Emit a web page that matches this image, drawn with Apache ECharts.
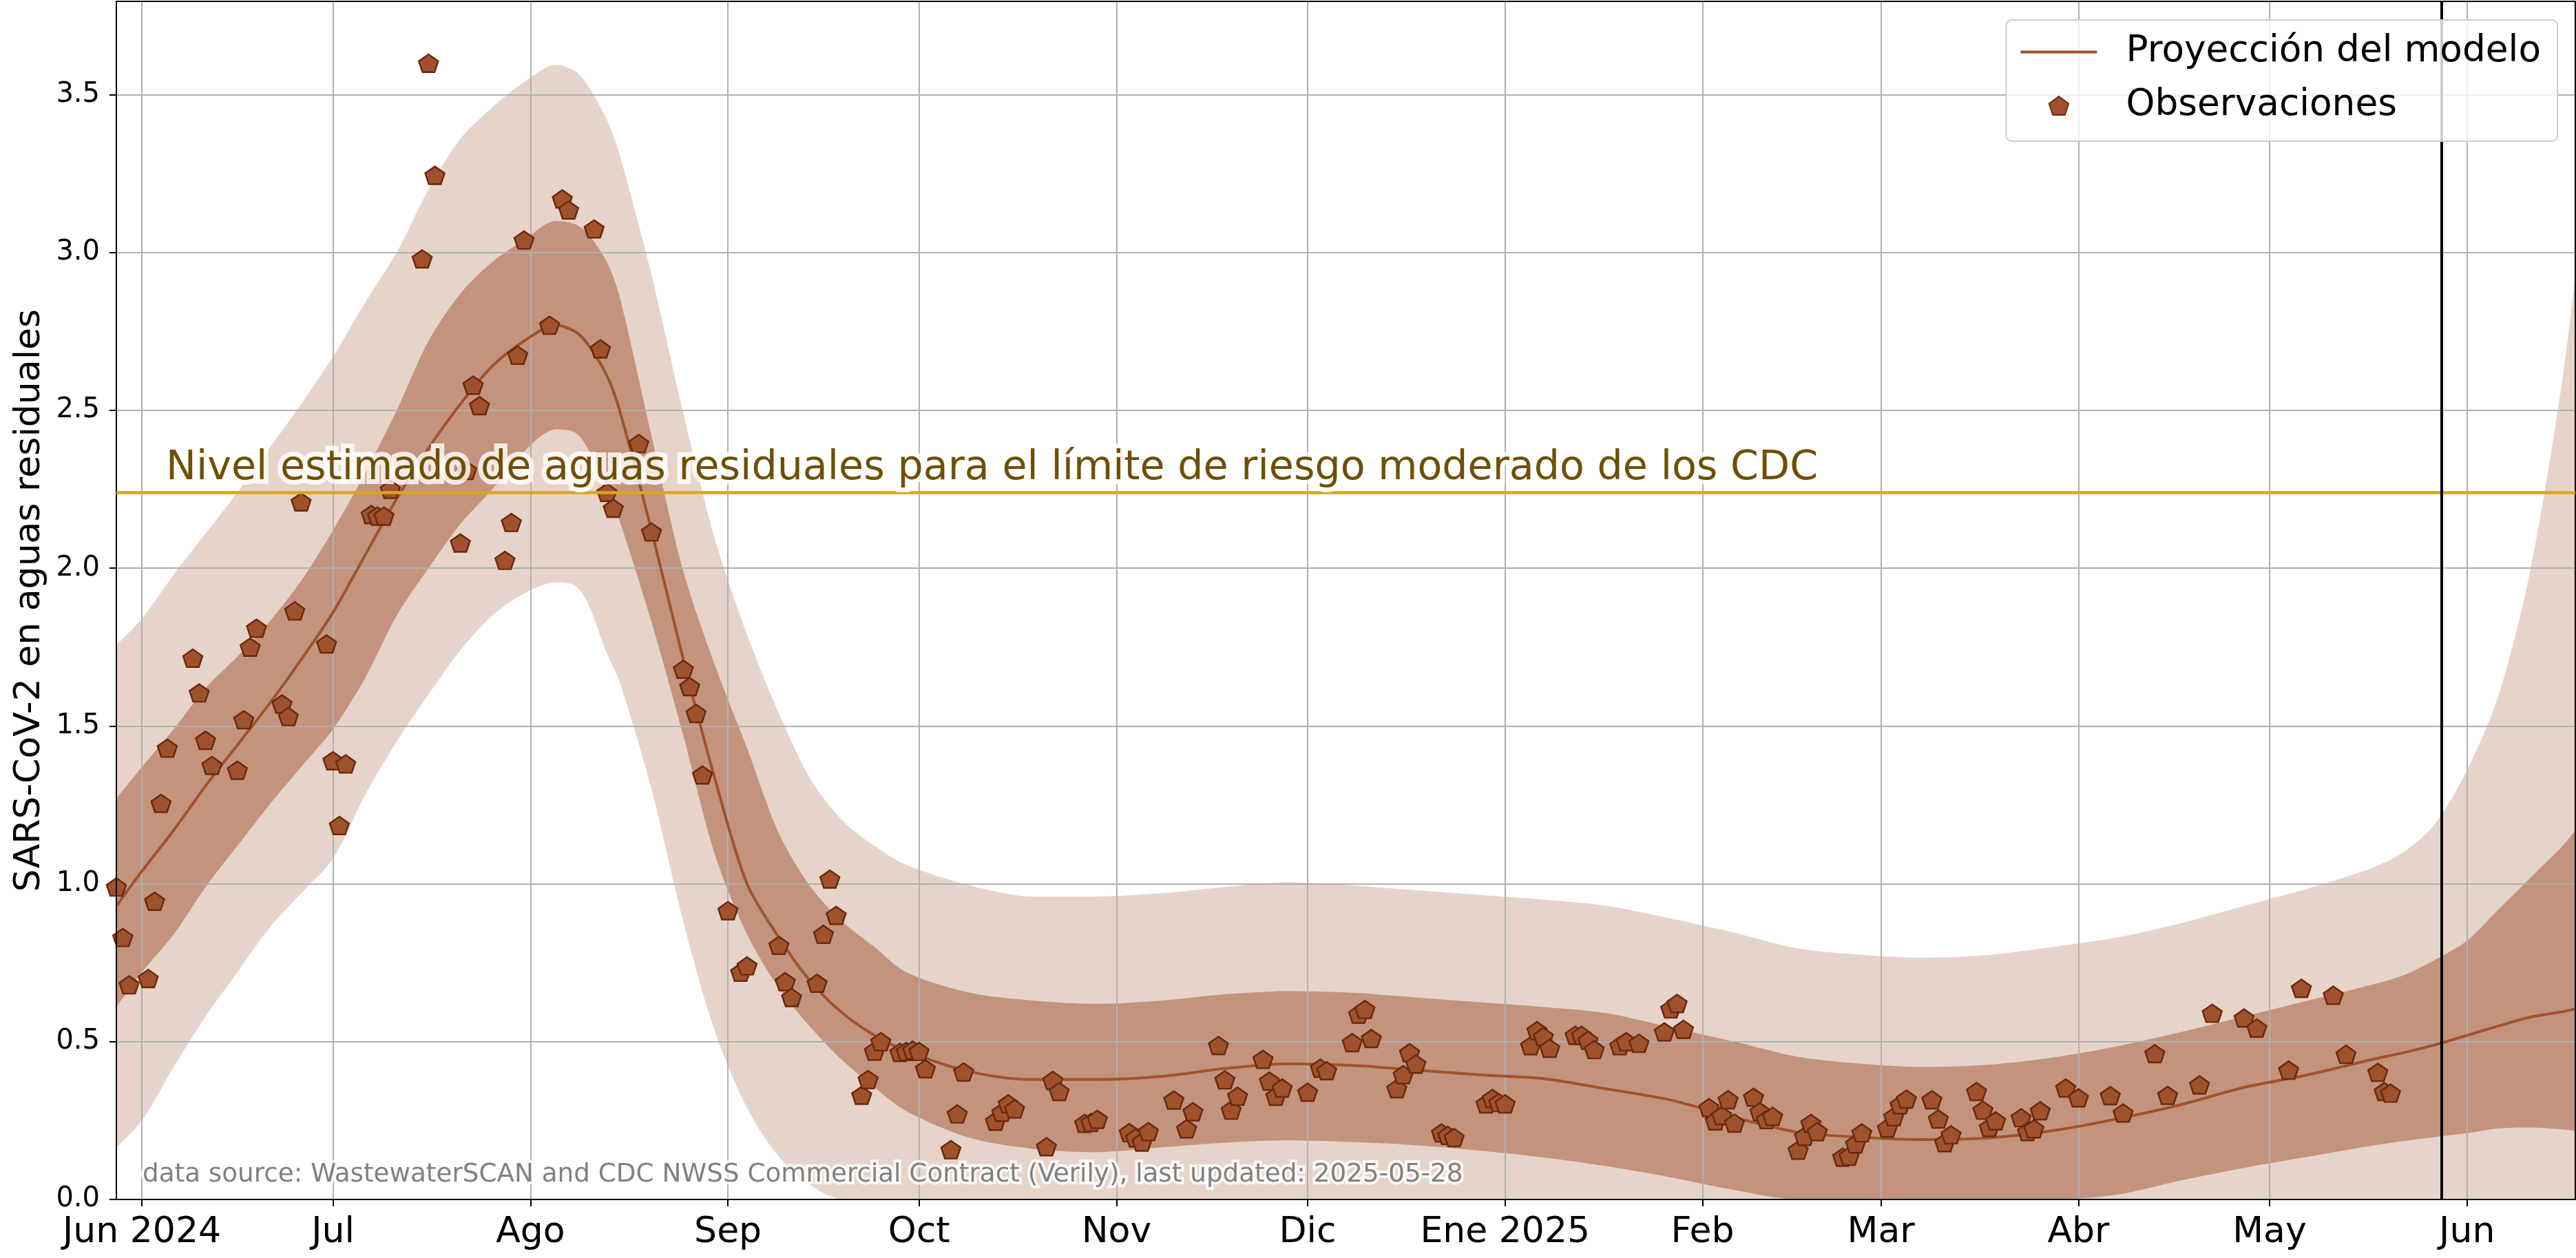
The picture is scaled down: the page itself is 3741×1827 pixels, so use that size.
<!DOCTYPE html>
<html>
<head>
<meta charset="utf-8">
<title>SARS-CoV-2 en aguas residuales</title>
<script src="https://cdn.jsdelivr.net/npm/echarts@6/dist/echarts.min.js"></script>
<style>
  html, body { margin: 0; padding: 0; background: #fff; }
  #chart { width: 3741px; height: 1827px; }
</style>
</head>
<body>
<div id="chart"></div>
<script>
// ---- observaciones (fecha de muestra, nivel) ----
var obsDates = [
  '2024-05-28','2024-05-29','2024-05-30','2024-06-02','2024-06-03','2024-06-04','2024-06-05',
  '2024-06-09','2024-06-10','2024-06-11','2024-06-12','2024-06-16','2024-06-17','2024-06-18','2024-06-19',
  '2024-06-23','2024-06-24','2024-06-25','2024-06-26','2024-06-30','2024-07-01','2024-07-02','2024-07-03',
  '2024-07-07','2024-07-08','2024-07-09','2024-07-10','2024-07-15','2024-07-16','2024-07-17',
  '2024-07-21','2024-07-22','2024-07-23','2024-07-24','2024-07-28','2024-07-29','2024-07-30','2024-07-31',
  '2024-08-04','2024-08-06','2024-08-07','2024-08-11','2024-08-12','2024-08-13','2024-08-14',
  '2024-08-18','2024-08-20','2024-08-25','2024-08-26','2024-08-27','2024-08-28',
  '2024-09-01','2024-09-03','2024-09-04','2024-09-09','2024-09-10','2024-09-11',
  '2024-09-15','2024-09-16','2024-09-17','2024-09-18','2024-09-22','2024-09-23','2024-09-24','2024-09-25',
  '2024-09-28','2024-09-29','2024-09-30','2024-10-01','2024-10-02','2024-10-06','2024-10-07','2024-10-08',
  '2024-10-13','2024-10-14','2024-10-15','2024-10-16','2024-10-21','2024-10-22','2024-10-23',
  '2024-10-27','2024-10-28','2024-10-29','2024-11-03','2024-11-04','2024-11-05','2024-11-06',
  '2024-11-10','2024-11-12','2024-11-13','2024-11-17','2024-11-18','2024-11-19','2024-11-20',
  '2024-11-24','2024-11-25','2024-11-26','2024-11-27','2024-12-01','2024-12-03','2024-12-04',
  '2024-12-08','2024-12-09','2024-12-10','2024-12-11','2024-12-15','2024-12-16','2024-12-17','2024-12-18',
  '2024-12-22','2024-12-23','2024-12-24','2024-12-29','2024-12-30','2024-12-31','2025-01-01',
  '2025-01-05','2025-01-06','2025-01-07','2025-01-08','2025-01-12','2025-01-13','2025-01-14','2025-01-15',
  '2025-01-19','2025-01-20','2025-01-22','2025-01-26','2025-01-27','2025-01-28','2025-01-29',
  '2025-02-02','2025-02-03','2025-02-04','2025-02-05','2025-02-06','2025-02-09','2025-02-10','2025-02-11','2025-02-12',
  '2025-02-16','2025-02-17','2025-02-18','2025-02-19','2025-02-23','2025-02-24','2025-02-25','2025-02-26',
  '2025-03-02','2025-03-03','2025-03-04','2025-03-05','2025-03-09','2025-03-10','2025-03-11','2025-03-12',
  '2025-03-16','2025-03-17','2025-03-18','2025-03-19','2025-03-23','2025-03-24','2025-03-25','2025-03-26',
  '2025-03-30','2025-04-01','2025-04-06','2025-04-08','2025-04-13','2025-04-15','2025-04-20','2025-04-22',
  '2025-04-27','2025-04-29','2025-05-04','2025-05-06','2025-05-11','2025-05-13','2025-05-18','2025-05-19','2025-05-20'
];
var obsValues = [
  0.99, 0.83, 0.68, 0.70, 0.945, 1.255, 1.43,
  1.715, 1.605, 1.455, 1.375, 1.36, 1.52, 1.75, 1.81,
  1.57, 1.53, 1.865, 2.21, 1.76, 1.39, 1.185, 1.38,
  2.17, 2.165, 2.165, 2.25, 2.98, 3.60, 3.245,
  2.08, 2.31, 2.58, 2.515, 2.025, 2.145, 2.675, 3.04,
  2.77, 3.17, 3.135, 3.075, 2.695, 2.24, 2.19,
  2.395, 2.115, 1.68, 1.625, 1.54, 1.345,
  0.915, 0.72, 0.74, 0.805, 0.69, 0.64,
  0.685, 0.84, 1.015, 0.90, 0.33, 0.38, 0.47, 0.50,
  0.466, 0.469, 0.473, 0.469, 0.414, 0.158, 0.271, 0.404,
  0.248, 0.276, 0.303, 0.287, 0.167, 0.377, 0.342,
  0.241, 0.244, 0.254, 0.212, 0.195, 0.182, 0.215,
  0.315, 0.224, 0.278, 0.488, 0.379, 0.283, 0.327,
  0.444, 0.375, 0.327, 0.353, 0.34, 0.416, 0.408,
  0.497, 0.587, 0.602, 0.51, 0.351, 0.395, 0.465, 0.429,
  0.211, 0.203, 0.196, 0.303, 0.32, 0.307, 0.303,
  0.487, 0.535, 0.516, 0.479, 0.52, 0.52, 0.504, 0.475,
  0.487, 0.50, 0.495, 0.531, 0.604, 0.621, 0.539,
  0.291, 0.249, 0.266, 0.316, 0.242, 0.324, 0.278, 0.253, 0.263,
  0.156, 0.20, 0.241, 0.215, 0.134, 0.137, 0.176, 0.211,
  0.226, 0.262, 0.30, 0.318, 0.316, 0.255, 0.18, 0.205,
  0.342, 0.283, 0.228, 0.249, 0.259, 0.215, 0.224, 0.281,
  0.353, 0.322, 0.329, 0.274, 0.462, 0.33, 0.363, 0.59,
  0.575, 0.543, 0.41, 0.669, 0.647, 0.46, 0.403, 0.342, 0.337
];

// ---- proyección del modelo: mediana e intervalos ----
var modelDates = [
  '2024-05-28','2024-06-01','2024-06-06','2024-06-11','2024-06-16','2024-06-21','2024-06-26',
  '2024-07-01','2024-07-06','2024-07-11','2024-07-16','2024-07-21','2024-07-26','2024-07-31',
  '2024-08-05','2024-08-08','2024-08-10','2024-08-13','2024-08-15','2024-08-20','2024-08-25','2024-08-30',
  '2024-09-04','2024-09-09','2024-09-14','2024-09-19','2024-09-24','2024-09-29',
  '2024-10-09','2024-10-19','2024-10-29','2024-11-08','2024-11-18','2024-11-28',
  '2024-12-08','2024-12-18','2024-12-28','2025-01-07','2025-01-17','2025-01-27',
  '2025-02-06','2025-02-16','2025-02-26','2025-03-08','2025-03-18','2025-03-28',
  '2025-04-07','2025-04-17','2025-04-27','2025-05-07','2025-05-17','2025-05-22','2025-05-27',
  '2025-06-01','2025-06-06','2025-06-11','2025-06-16','2025-06-18'
];
var modelMedian = [
  0.93, 1.04, 1.17, 1.31, 1.44, 1.57, 1.71,
  1.86, 2.04, 2.22, 2.38, 2.52, 2.64, 2.72,
  2.77, 2.75, 2.71, 2.61, 2.50, 2.12, 1.71, 1.33,
  1.00, 0.83, 0.69, 0.59, 0.52, 0.47,
  0.405, 0.38, 0.38, 0.39, 0.415, 0.43,
  0.425, 0.41, 0.395, 0.383, 0.35, 0.315,
  0.26, 0.213, 0.197, 0.19, 0.195, 0.218,
  0.255, 0.30, 0.355, 0.395, 0.443, 0.465, 0.49,
  0.52, 0.55, 0.578, 0.595, 0.604
];
var ci50High = [
  1.27, 1.37, 1.49, 1.62, 1.72, 1.83, 1.96,
  2.12, 2.30, 2.50, 2.72, 2.87, 2.97, 3.04,
  3.10, 3.09, 3.06, 2.97, 2.86, 2.42, 1.99, 1.69,
  1.43, 1.16, 0.99, 0.88, 0.80, 0.72,
  0.655, 0.63, 0.62, 0.63, 0.65, 0.66,
  0.655, 0.64, 0.625, 0.61, 0.59, 0.545,
  0.50, 0.452, 0.43, 0.42, 0.427, 0.45,
  0.485, 0.53, 0.58, 0.63, 0.68, 0.71, 0.76,
  0.82, 0.92, 1.02, 1.12, 1.17
];
var ci50Low = [
  0.61, 0.72, 0.84, 0.99, 1.12, 1.25, 1.37,
  1.49, 1.65, 1.85, 2.0, 2.14, 2.25, 2.37,
  2.44, 2.43, 2.38, 2.25, 2.15, 1.83, 1.47, 1.09,
  0.84, 0.67, 0.545, 0.44, 0.355, 0.28,
  0.195, 0.16, 0.15, 0.165, 0.18, 0.187,
  0.182, 0.172, 0.155, 0.133, 0.105, 0.07,
  0.03, 0, 0, 0, 0, 0,
  0.015, 0.06, 0.10, 0.135, 0.17, 0.185, 0.198,
  0.21, 0.225, 0.228, 0.222, 0.217
];
var ci95High = [
  1.757, 1.84, 1.98, 2.11, 2.24, 2.38, 2.52,
  2.67, 2.84, 3.0, 3.2, 3.36, 3.46, 3.54,
  3.595, 3.575, 3.53, 3.42, 3.31, 2.93, 2.49, 2.09,
  1.79, 1.54, 1.33, 1.20, 1.12, 1.06,
  0.995, 0.96, 0.96, 0.97, 0.99, 1.005,
  0.995, 0.98, 0.965, 0.95, 0.93, 0.89,
  0.845, 0.795, 0.775, 0.766, 0.775, 0.80,
  0.83, 0.875, 0.93, 0.985, 1.05, 1.10, 1.19,
  1.36, 1.60, 2.0, 2.6, 2.93
];
var ci95Low = [
  0.165, 0.25, 0.42, 0.58, 0.72, 0.86, 0.97,
  1.08, 1.28, 1.45, 1.60, 1.74, 1.85, 1.92,
  1.955, 1.945, 1.89, 1.73, 1.64, 1.30, 0.88, 0.53,
  0.29, 0.135, 0.045, 0, 0, 0,
  0, 0, 0, 0, 0, 0,
  0, 0, 0, 0, 0, 0,
  0, 0, 0, 0, 0, 0,
  0, 0, 0, 0, 0, 0, 0,
  0, 0, 0, 0, 0
];

// ---- ejes ----
var monthTicks = ['2024-06-01','2024-07-01','2024-08-01','2024-09-01','2024-10-01','2024-11-01',
  '2024-12-01','2025-01-01','2025-02-01','2025-03-01','2025-04-01','2025-05-01','2025-06-01'];
var monthLabels = ['Jun 2024','Jul','Ago','Sep','Oct','Nov','Dic','Ene 2025','Feb','Mar','Abr','May','Jun'];
var yTicks = [0, 0.5, 1.0, 1.5, 2.0, 2.5, 3.0, 3.5];
var riskThreshold = 2.24;
var lastUpdated = '2025-05-28';
var xStart = '2024-05-28', xEnd = '2025-06-18';

var FONT = 'DejaVu Sans';
var SIENNA = '#A0522D';
var BAND_LIGHT = '#E6D4CA';
var BAND_DARK = '#C3937D';

function parseDay(s) {
  var p = s.split('-');
  return new Date(+p[0], +p[1] - 1, +p[2]).getTime();
}
function pairs(xs, ys) {
  return xs.map(function (x, i) { return [parseDay(x), ys[i]]; });
}

var tickTimes = monthTicks.map(parseDay);
var tickLabelByTime = {};
tickTimes.forEach(function (t, i) { tickLabelByTime[t] = monthLabels[i]; });

// bands: each edge filled down to 0, drawn from the outermost inwards
function band(name, values, fill) {
  return {
    name: name, type: 'line', symbol: 'none', smooth: 0.3, silent: true, z: 1,
    data: pairs(modelDates, values),
    lineStyle: { width: 0, opacity: 0 },
    areaStyle: { color: fill, opacity: 1 }
  };
}

var option = {
  animation: false,
  backgroundColor: '#ffffff',
  grid: {
    left: 169, right: 1, top: 2, bottom: 85,
    show: true, borderColor: '#000', borderWidth: 2, backgroundColor: 'transparent', z: 5
  },
  legend: {
    data: [
      { name: 'Proyección del modelo',
        itemStyle: { color: 'rgba(0,0,0,0)', borderColor: 'rgba(0,0,0,0)', borderWidth: 0 },
        lineStyle: { color: SIENNA, width: 4 } },
      { name: 'Observaciones' }
    ],
    orient: 'vertical',
    right: 27, top: 29,
    padding: [20, 24, 25, 19],
    itemWidth: 111, itemHeight: 27, itemGap: 25,
    backgroundColor: 'rgba(255,255,255,0.8)',
    borderColor: '#cccccc', borderWidth: 2, borderRadius: 8,
    textStyle: { fontFamily: FONT, fontSize: 53.3, lineHeight: 52, color: '#000', padding: [0, 0, 0, 37] },
    z: 6
  },
  xAxis: {
    type: 'value',
    min: parseDay(xStart), max: parseDay(xEnd),
    z: 2,
    axisLine: { show: true, onZero: false, lineStyle: { color: '#000', width: 2 } },
    axisTick: { show: true, length: 10, lineStyle: { color: '#000', width: 2 }, customValues: tickTimes },
    axisLabel: {
      customValues: tickTimes,
      fontFamily: FONT, fontSize: 52, color: '#000', margin: 22,
      formatter: function (v) { return tickLabelByTime[v] || ''; }
    },
    splitLine: { show: true, lineStyle: { color: '#b0b0b0', width: 2 } }
  },
  yAxis: {
    type: 'value',
    min: 0, max: 3.796,
    z: 2,
    name: 'SARS-CoV-2 en aguas residuales',
    nameLocation: 'middle', nameGap: 100,
    nameTextStyle: { fontFamily: FONT, fontSize: 52, color: '#000' },
    axisLine: { show: true, lineStyle: { color: '#000', width: 2 } },
    axisTick: { show: true, length: 10, lineStyle: { color: '#000', width: 2 }, customValues: yTicks },
    axisLabel: {
      customValues: yTicks,
      fontFamily: FONT, fontSize: 40, color: '#000', margin: 24,
      formatter: function (v) { return v.toFixed(1); }
    },
    splitLine: { show: true, lineStyle: { color: '#b0b0b0', width: 2 } }
  },
  series: [
    band('ic95_sup', ci95High, BAND_LIGHT),
    band('ic50_sup', ci50High, BAND_DARK),
    band('ic50_inf', ci50Low, BAND_LIGHT),
    band('ic95_inf', ci95Low, '#ffffff'),
    {
      name: 'Proyección del modelo',
      type: 'line', symbol: 'none', smooth: 0.3, z: 3,
      data: pairs(modelDates, modelMedian),
      itemStyle: { color: SIENNA },
      lineStyle: { color: SIENNA, width: 4 },
      markLine: {
        silent: true, symbol: ['none', 'none'], animation: false,
        label: { show: false },
        data: [
          { yAxis: riskThreshold, lineStyle: { color: '#DAA520', width: 4.5, type: 'solid' } },
          { xAxis: parseDay(lastUpdated), lineStyle: { color: '#000', width: 4, type: 'solid' } }
        ]
      }
    },
    {
      name: 'Observaciones',
      type: 'scatter', z: 4,
      symbol: 'path://M0,-10L9.511,-3.09L5.878,8.09L-5.878,8.09L-9.511,-3.09Z',
      symbolSize: [28, 27],
      symbolKeepAspect: true,
      data: pairs(obsDates, obsValues),
      itemStyle: { color: SIENNA, borderColor: '#6b2a0e', borderWidth: 2.5, opacity: 1 }
    }
  ],
  graphic: [
    {
      type: 'text', x: 241, y: 681, z: 10, silent: true,
      style: {
        text: 'Nivel estimado de aguas residuales para el límite de riesgo moderado de los CDC',
        font: '58.7px "DejaVu Sans"', fill: '#6e5005',
        stroke: 'rgba(255,255,255,0.8)', lineWidth: 14, lineJoin: 'round',
        align: 'left', verticalAlign: 'middle'
      }
    },
    {
      type: 'text', x: 207, y: 1706, z: 10, silent: true,
      style: {
        text: 'data source: WastewaterSCAN and CDC NWSS Commercial Contract (Verily), last updated: 2025-05-28',
        font: '37.3px "DejaVu Sans"', fill: '#808080',
        stroke: 'rgba(255,255,255,0.8)', lineWidth: 8, lineJoin: 'round',
        align: 'left', verticalAlign: 'middle'
      }
    }
  ]
};

var chart = echarts.init(document.getElementById('chart'));
chart.setOption(option);
window.onresize = function () { chart.resize(); };
</script>
</body>
</html>
